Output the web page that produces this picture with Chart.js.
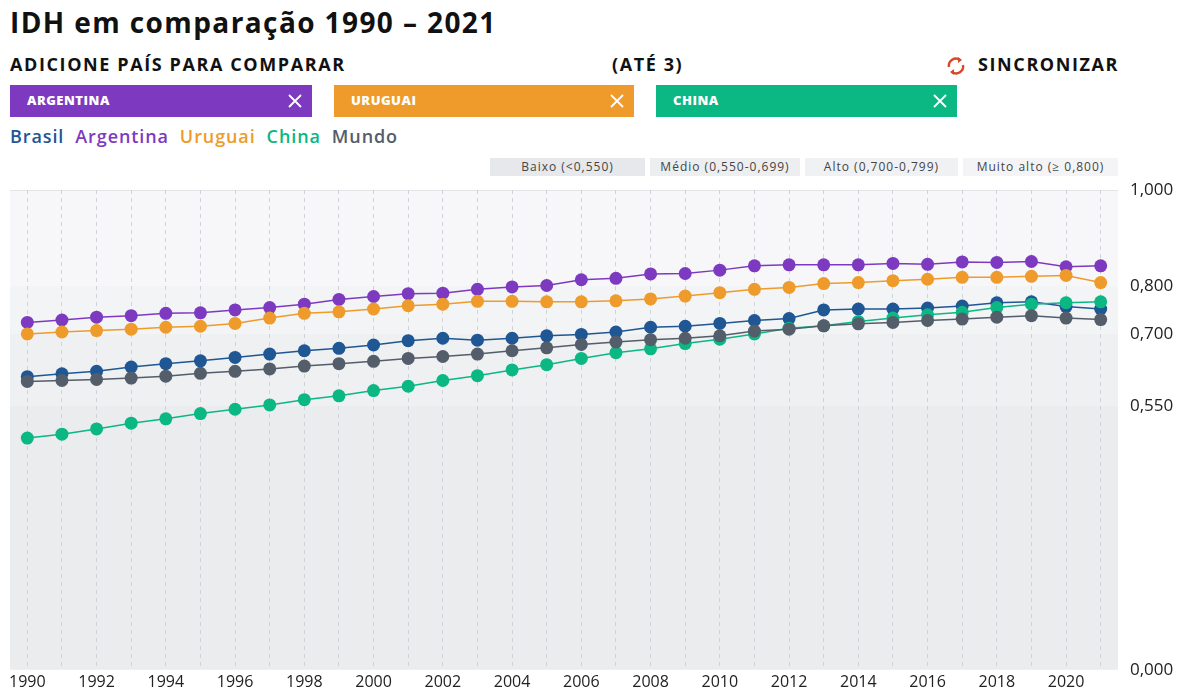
<!DOCTYPE html>
<html><head><meta charset="utf-8">
<script src="https://cdn.jsdelivr.net/npm/chart.js@4.4.1/dist/chart.umd.min.js"></script>
<style>
html,body{margin:0;padding:0;background:#fff;width:1181px;height:688px;overflow:hidden;font-family:"Open Sans",Lato,sans-serif;}
.abs{position:absolute;white-space:nowrap;}
#title{left:10px;top:3px;font-size:28px;font-weight:700;color:#111;letter-spacing:1.4px;}
.sub{font-size:18px;font-weight:700;color:#111;top:52px;letter-spacing:1.6px;}
.chip{top:85px;height:32px;width:302px;color:#fff;font-size:13px;font-weight:800;line-height:31px;letter-spacing:0.5px;}
.chip span.t{position:absolute;left:17px;}
.chip svg{position:absolute;right:10px;top:9px;}
#legend{left:10px;top:124px;font-size:18px;font-weight:600;letter-spacing:0.9px;}
#legend span{margin-right:11px;}
.band{top:158px;height:18px;font-size:12px;color:#444;text-align:center;line-height:18px;letter-spacing:1px;}
#wrap{position:absolute;left:0;top:150px;width:1181px;height:542px;}
</style></head><body>
<div class="abs" id="title">IDH em comparação 1990 – 2021</div>
<div class="abs sub" style="left:10px">ADICIONE PAÍS PARA COMPARAR</div>
<div class="abs sub" style="left:612px">(ATÉ 3)</div>
<div class="abs sub" style="left:978px">SINCRONIZAR</div>
<svg class="abs" style="left:944px;top:54px" width="24" height="24" viewBox="0 0 24 24"><path d="M5 13a7 7 0 0 1 11-7" fill="none" stroke="#d9452b" stroke-width="2.4"/><path d="M14 3l4 3-4 3z" fill="#d9452b"/><path d="M19 11a7 7 0 0 1-11 7" fill="none" stroke="#d9452b" stroke-width="2.4"/><path d="M10 21l-4-3 4-3z" fill="#d9452b"/></svg>
<div class="abs chip" style="left:10px;background:#7d3ac1"><span class="t">ARGENTINA</span><svg width="14" height="14"><path d="M1 1L13 13M13 1L1 13" stroke="#fff" stroke-width="1.8"/></svg></div>
<div class="abs chip" style="left:334px;width:300px;background:#ee9b2b"><span class="t">URUGUAI</span><svg width="14" height="14"><path d="M1 1L13 13M13 1L1 13" stroke="#fff" stroke-width="1.8"/></svg></div>
<div class="abs chip" style="left:656px;width:301px;background:#0bb783"><span class="t">CHINA</span><svg width="14" height="14"><path d="M1 1L13 13M13 1L1 13" stroke="#fff" stroke-width="1.8"/></svg></div>
<div class="abs" id="legend"></div>
<div class="abs band" style="left:490px;width:155px;background:#e6e8eb">Baixo (&lt;0,550)</div>
<div class="abs band" style="left:650px;width:150px;background:#eceef0">Médio (0,550-0,699)</div>
<div class="abs band" style="left:805px;width:153px;background:#f0f1f3">Alto (0,700-0,799)</div>
<div class="abs band" style="left:963px;width:155px;background:#f4f4f6">Muito alto (≥ 0,800)</div>
<div id="wrap"><canvas id="c"></canvas></div>
<script>
const years = [1990,1991,1992,1993,1994,1995,1996,1997,1998,1999,2000,2001,2002,2003,2004,2005,2006,2007,2008,2009,2010,2011,2012,2013,2014,2015,2016,2017,2018,2019,2020,2021];
const brasil    = [0.611,0.617,0.622,0.631,0.638,0.644,0.651,0.658,0.665,0.670,0.677,0.686,0.691,0.687,0.691,0.696,0.699,0.704,0.714,0.716,0.722,0.728,0.732,0.750,0.752,0.752,0.754,0.758,0.765,0.767,0.757,0.752];
const argentina = [0.724,0.729,0.735,0.738,0.743,0.744,0.750,0.755,0.762,0.772,0.778,0.784,0.785,0.793,0.798,0.801,0.813,0.816,0.825,0.826,0.833,0.842,0.844,0.844,0.844,0.847,0.845,0.850,0.849,0.851,0.840,0.842];
const uruguai   = [0.700,0.704,0.707,0.710,0.714,0.716,0.722,0.733,0.743,0.746,0.752,0.759,0.762,0.768,0.768,0.767,0.767,0.769,0.773,0.779,0.786,0.793,0.797,0.805,0.807,0.811,0.814,0.818,0.818,0.820,0.822,0.807];
const china     = [0.483,0.491,0.502,0.514,0.523,0.534,0.543,0.552,0.563,0.571,0.582,0.591,0.603,0.613,0.625,0.636,0.649,0.661,0.669,0.680,0.689,0.700,0.712,0.717,0.726,0.733,0.740,0.745,0.755,0.762,0.765,0.767];
const mundo     = [0.601,0.603,0.605,0.608,0.612,0.618,0.622,0.627,0.633,0.638,0.643,0.649,0.653,0.658,0.665,0.671,0.678,0.683,0.688,0.691,0.696,0.706,0.710,0.717,0.721,0.724,0.728,0.731,0.735,0.738,0.733,0.730];
const seriesNames = ['Brasil','Argentina','Uruguai','China','Mundo'];
const seriesColors = ['#1f5694','#7d3ac1','#ee9b2b','#0bb783','#545d6a'];
const yTicks = [0,0.55,0.7,0.8,1.0];
const bandLimits = [0,0.55,0.7,0.8,1.0];
const bandColors = ['#eaecee','#eef0f2','#f3f4f6','#f7f7f9'];

document.getElementById('legend').innerHTML = seriesNames.map((n,i)=>`<span style="color:${seriesColors[i]}">${n}</span>`).join('');

const bandPlugin = {
  id:'bands',
  beforeDraw(chart){
    const {ctx, chartArea:a, scales:{y}} = chart;
    ctx.save();
    for(let i=0;i<bandColors.length;i++){
      const y1 = y.getPixelForValue(bandLimits[i+1]), y0 = y.getPixelForValue(bandLimits[i]);
      ctx.fillStyle = bandColors[i];
      ctx.fillRect(a.left, y1, a.right-a.left, y0-y1);
    }
    ctx.strokeStyle = '#e3e4e8'; ctx.lineWidth = 1;
    ctx.beginPath(); ctx.moveTo(a.left, a.top+0.5); ctx.lineTo(a.right, a.top+0.5); ctx.stroke();
    ctx.restore();
  }
};

const dataArr = [brasil,argentina,uruguai,china,mundo];
const orders = [5,4,3,2,1];
new Chart(document.getElementById('c'), {
  type:'line',
  data:{
    labels: years,
    datasets: seriesNames.map((n,i)=>({
      label:n, data:dataArr[i], borderColor:seriesColors[i], backgroundColor:seriesColors[i],
      pointBackgroundColor:seriesColors[i], pointBorderColor:seriesColors[i], pointRadius:6.5, pointBorderWidth:0,
      borderWidth:1.5, tension:0, order:orders[i]
    }))
  },
  options:{
    responsive:true, maintainAspectRatio:false, animation:false,
    layout:{padding:{top:40,left:10,right:0,bottom:0}},
    plugins:{legend:{display:false},tooltip:{enabled:false}},
    scales:{
      x:{
        offset:true,
        grid:{color:'#cfd2d6',lineWidth:1,drawTicks:false},
        border:{display:false,dash:[4,4]},
        ticks:{autoSkip:false,maxRotation:0,padding:3,color:'#222',font:{family:'"Open Sans", Lato, sans-serif',size:16},
          callback:function(v,i){return (years[i]%2===0)?String(years[i]):'';}},
        afterFit(s){s.height=18;}
      },
      y:{
        position:'right', min:0, max:1,
        grid:{display:false,drawTicks:false},
        border:{display:false},
        afterBuildTicks(s){s.ticks = yTicks.map(v=>({value:v}));},
        ticks:{padding:12,color:'#222',font:{family:'"Open Sans", Lato, sans-serif',size:17},
          callback:v=>v.toFixed(3).replace('.',',')},
        afterFit(s){s.width=63;}
      }
    }
  },
  plugins:[bandPlugin]
});
</script>
</body></html>
